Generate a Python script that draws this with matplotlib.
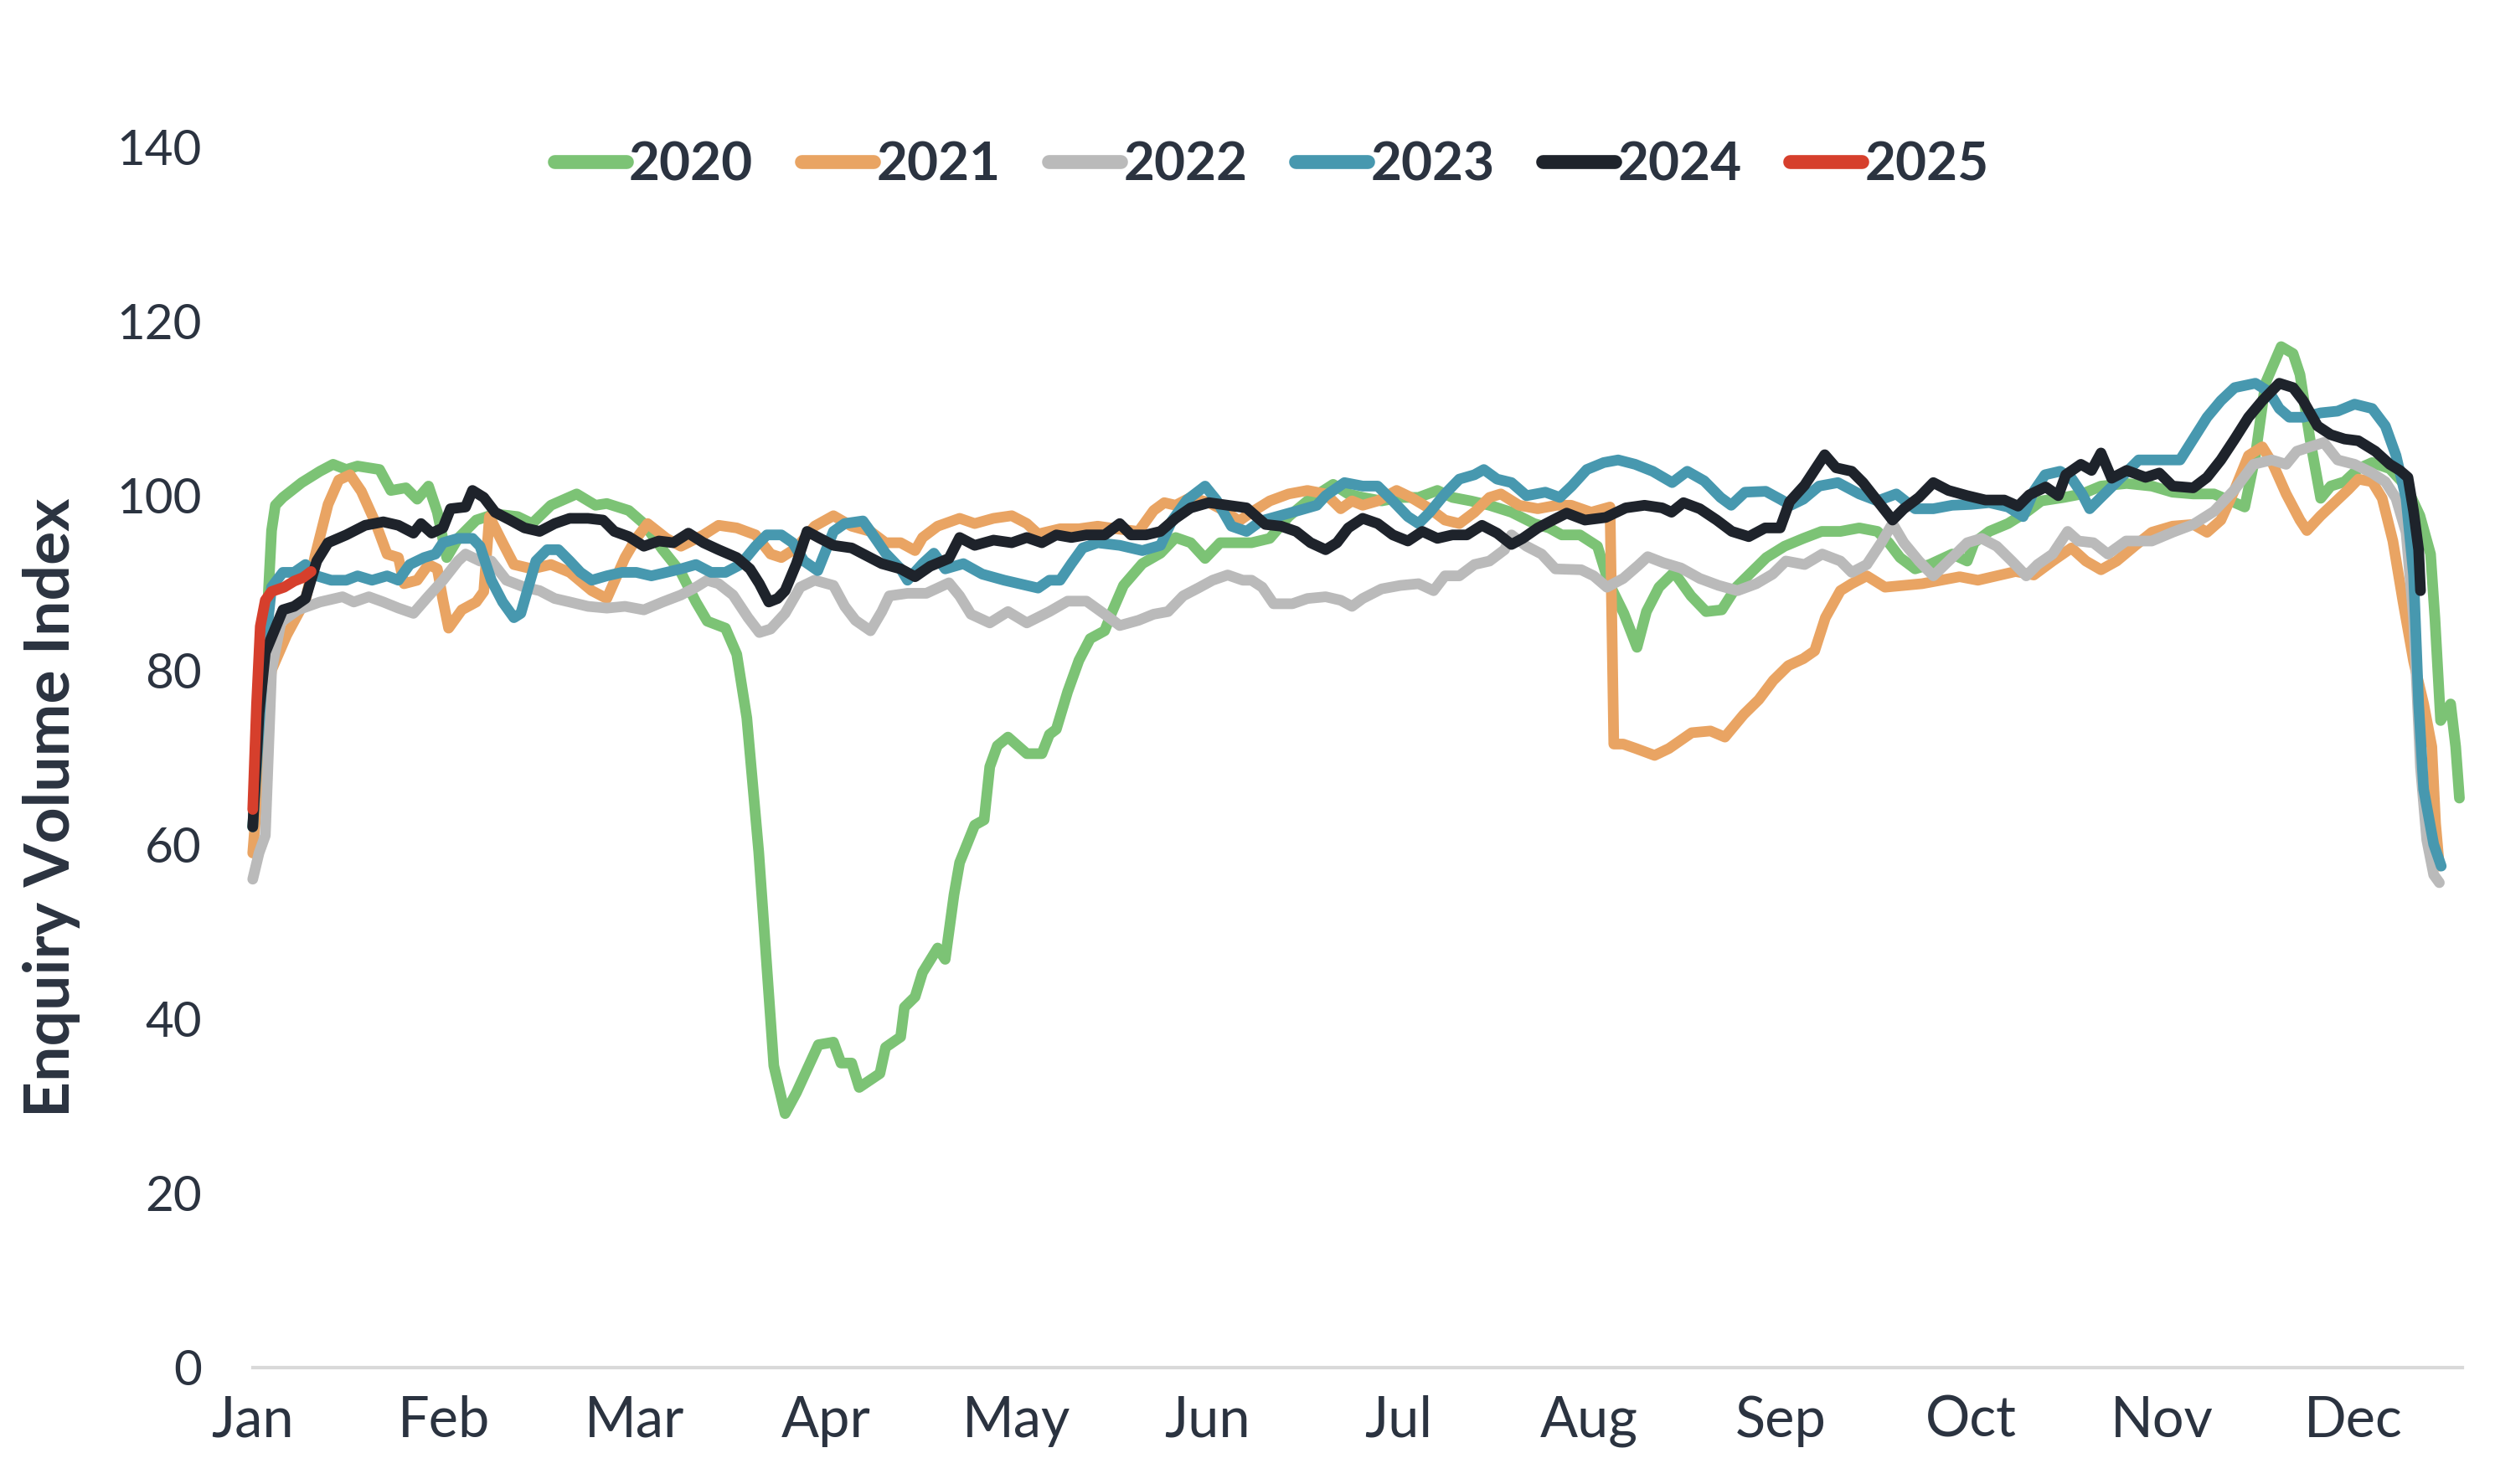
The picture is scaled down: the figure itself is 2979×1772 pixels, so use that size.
import matplotlib
matplotlib.use("Agg")
import matplotlib.pyplot as plt

# ---------------- data (day of year, index value) ----------------
months = ["Jan", "Feb", "Mar", "Apr", "May", "Jun", "Jul", "Aug", "Sep", "Oct", "Nov", "Dec"]
y_ticks = [0, 20, 40, 60, 80, 100, 120, 140]
years = ["2020", "2021", "2022", "2023", "2024", "2025"]

d2020 = [0, 1.5, 3, 3.6, 4.8, 7.8, 10.7, 12.8, 14.9, 16.7, 20.2, 22.0, 24.4, 26.2, 28.0, 29.4, 30.9, 32.7, 35.6, 38.6,
         42.2, 44.5, 47.5, 51.6, 54.6, 56.4, 59.9, 62.3, 65.3, 68.2, 70.6, 72.4, 75.3, 77.1, 78.7, 80.6, 81.8, 83.0, 84.8,
         86.6, 90.1, 92.5, 93.7, 95.4, 96.6, 99.9, 100.8, 103.2, 103.8, 105.5, 106.7, 109.1, 110.3, 111.7, 112.6, 115.0,
         116.5, 117.4, 118.6, 120.3, 123.3, 125.7, 126.9, 128.0, 129.8, 131.6, 133.4, 135.7, 136.9, 138.7, 141.7, 144.6,
         147.0, 149.4, 151.7, 154.1, 156.5, 159.1, 162, 165, 168, 172.1, 174.5, 176.8, 179.8, 182.8, 185.7, 188.7, 191.1,
         194.0, 197.0, 200.5, 204.1, 206.5, 208.5, 211.4, 214.2, 216.0, 218.4, 220.5, 222.0, 224.0, 226.4, 229.1, 231.5,
         234, 236.3, 238.7, 241.1, 244, 247, 249.9, 252.9, 255.9, 258.8, 260.6, 262.4, 264.8, 267.1, 270.7, 273.1, 274.2,
         276.6, 279.6, 282.5, 284.9, 288.5, 291.4, 294.4, 298.5, 302.5, 305.8, 309.1, 312.4, 315.7, 317.3, 319.0, 320.6,
         323.1, 325.0, 326.1, 327.7, 329.4, 331.0, 333.2, 335.4, 337.6, 340.4, 343.0, 345.2, 346.9, 347.6, 348.5, 350.1,
         350.9, 351.5]
v2020 = [62, 75, 96, 98.9, 99.8, 101.5, 102.8, 103.6, 103.0, 103.4, 103.0, 100.6, 100.9, 99.6, 101.1, 98.1, 92.9, 95.1,
         97.2, 97.9, 97.6, 96.8, 98.9, 100.2, 98.9, 99.1, 98.3, 96.8, 93.8, 91.2, 87.8, 85.6, 84.8, 81.8, 74.5, 59.1, 46.8,
         34.6, 29.1, 31.5, 37.0, 37.3, 34.9, 34.9, 32.1, 33.7, 36.7, 37.9, 41.3, 42.5, 45.3, 48.1, 46.8, 54.2, 57.9, 62.2,
         62.8, 68.9, 71.3, 72.3, 70.4, 70.4, 72.6, 73.2, 77.5, 81.1, 83.6, 84.5, 86.7, 89.7, 92.2, 93.4, 95.2, 94.6, 92.8,
         94.6, 94.6, 94.6, 95.1, 97.6, 99.4, 101.3, 100.2, 99.8, 99.4, 99.8, 99.8, 100.6, 99.8, 99.4, 98.9, 98.1, 96.8,
         96.3, 95.5, 95.5, 94.2, 90.0, 86.5, 82.6, 86.7, 89.5, 91.2, 88.5, 86.7, 86.9, 89.5, 91.2, 92.9, 94.2, 95.1, 95.9,
         95.9, 96.3, 95.9, 94.6, 92.9, 91.6, 92.1, 93.3, 92.5, 94.6, 95.9, 96.8, 98.1, 99.4, 99.8, 100.2, 101.1, 101.4,
         101.1, 100.4, 100.2, 100.2, 99.2, 98.7, 104.6, 112.9, 117.1, 116.3, 113.9, 106.5, 99.7, 101.1, 101.6, 103.1,
         103.8, 103.1, 101.1, 97.7, 93.3, 85.9, 74.2, 76.1, 71.2, 65.3]

d2021 = [0, 1, 3.0, 5.4, 8.4, 9.9, 12, 13.7, 15.5, 17.3, 19.6, 21.4, 23.2, 24.1, 26.2, 28, 29.4, 30.3, 31.2, 33.3, 35.6,
         36.8, 37.7, 39.8, 41.6, 44.5, 47.5, 50.5, 54, 56.4, 59.3, 61.1, 62.9, 65.9, 68.2, 71.8, 74.2, 77.1, 80.1, 82.5,
         84.2, 86.6, 89.5, 92.5, 95.4, 98.4, 100.8, 103.2, 105.5, 106.7, 109.1, 112.6, 115, 118, 120.9, 123.3, 125.1,
         128.6, 131.6, 134.6, 137.5, 141.1, 143.5, 145.2, 147, 149.4, 152.3, 154.7, 157.1, 159.1, 162, 165, 168, 170.9,
         173.3, 175.1, 176.8, 179.2, 182.2, 184.5, 187.5, 189.9, 192.2, 194.6, 197, 198.8, 201.7, 204.7, 207.7, 210,
         213.2, 216.2, 216.8, 218.3, 220.3, 223.3, 225.6, 229.2, 232.2, 234.5, 237.5, 239.9, 242.2, 244.6, 247, 248.8,
         250.5, 252.9, 254.7, 257.1, 260, 263, 265.9, 268.9, 271.9, 274.8, 277.8, 280.8, 283.7, 286.7, 289.7, 292, 294.4,
         296.9, 299.9, 302.5, 305.8, 309.1, 311.3, 313.5, 315.7, 317.9, 320.1, 321.8, 323.9, 326.1, 327.2, 329.4, 331.6,
         333.8, 335.4, 337.6, 339.2, 340.9, 342.5, 344.2, 345.8, 347.1, 347.7, 348.3]
v2021 = [59, 68, 80, 84, 88, 93, 99, 101.8, 102.4, 100.5, 96.8, 93.3, 92.9, 89.9, 90.3, 92.1, 91.6, 88, 84.8, 86.9, 87.8,
         89, 97.6, 94.6, 92.1, 91.6, 92.1, 91.2, 89.1, 88.2, 92.9, 95.1, 96.8, 95.1, 94.2, 95.5, 96.6, 96.3, 95.5, 93.3,
         92.9, 94, 96.5, 97.7, 96.5, 95.9, 94.6, 94.6, 93.7, 95.2, 96.5, 97.4, 96.8, 97.4, 97.7, 96.8, 95.6, 96.2, 96.2,
         96.5, 96.2, 95.9, 98.3, 99.2, 98.9, 99.8, 99.2, 98.3, 97.1, 98.1, 99.4, 100.2, 100.6, 100.2, 98.5, 99.4, 98.9,
         99.4, 100.6, 99.8, 98.5, 97.2, 96.8, 98.1, 99.8, 100.2, 98.9, 98.5, 98.9, 98.9, 98.1, 98.7, 71.5, 71.5, 71.0,
         70.2, 71.0, 72.8, 73.0, 72.3, 74.9, 76.6, 78.8, 80.5, 81.3, 82.2, 86.0, 89.1, 89.9, 90.8, 89.5, 89.7, 89.9, 90.3,
         90.7, 90.3, 90.8, 91.3, 90.9, 92.5, 94.0, 92.5, 91.5, 92.5, 94.3, 95.8, 96.5, 96.7, 95.8, 97.2, 100.7, 104.6,
         105.6, 103.6, 100.2, 97.2, 96.0, 97.7, 99.2, 100.7, 101.9, 101.6, 99.7, 94.8, 87.9, 81.0, 76.1, 71.2, 62.4, 57.5]

d2022 = [0, 1, 2, 3, 4.5, 7.2, 10.7, 14.3, 16.1, 18.5, 20.8, 23.2, 25.6, 27.9, 30.3, 32.7, 33.9, 36.2, 38, 40.4, 43.3,
         45.7, 48.1, 50.5, 53.4, 56.4, 59.3, 62.3, 65.3, 68.2, 70.6, 72.4, 74.2, 76.5, 78.9, 80.7, 82.5, 84.8, 87.2, 89.5,
         92.5, 94.3, 96, 98.4, 100.2, 101.4, 104.3, 107.3, 110.9, 112.6, 114.4, 117.4, 120.3, 123.3, 126.9, 129.8, 132.8,
         135.7, 138.1, 141.1, 143.5, 145.8, 148.2, 150.6, 152.9, 155.3, 157.7, 159.1, 160.8, 162.6, 165.6, 168, 170.9,
         173.3, 175.1, 176.8, 179.8, 182.8, 185.7, 188.1, 189.9, 192.2, 194.6, 197, 199.4, 200.5, 202.9, 205.3, 207.5,
         211.6, 213.6, 215.7, 218.3, 220.7, 222.2, 224.7, 227.5, 230.5, 233.5, 236.5, 239.5, 242.1, 244.2, 247.2, 250,
         252.9, 254.7, 257.1, 259.4, 261.2, 263, 265.4, 267.7, 270.7, 273.1, 275.4, 277.8, 280.2, 282.5, 284.3, 286.7,
         289.1, 290.8, 293.2, 295.5, 298.4, 302.5, 305.8, 309.1, 312.4, 315.7, 318.7, 321.6, 323.9, 325.6, 327.7, 329.9,
         332.1, 334.8, 337.6, 339.7, 341.4, 343.0, 344.2, 345.3, 346.3, 347.4, 348.3]
v2022 = [56, 59, 61, 80, 85.5, 86.9, 87.8, 88.4, 87.8, 88.4, 87.8, 87.1, 86.5, 88.4, 90.3, 92.5, 93.3, 92.5, 92.5, 90.3,
         89.5, 89.1, 88.2, 87.8, 87.3, 87.1, 87.3, 86.9, 87.8, 88.6, 89.5, 90.3, 89.9, 88.6, 86.0, 84.3, 84.7, 86.5, 89.5,
         90.3, 89.7, 87.3, 85.7, 84.5, 86.7, 88.5, 88.8, 88.8, 90.0, 88.5, 86.4, 85.4, 86.7, 85.4, 86.7, 87.9, 87.9, 86.4,
         85.1, 85.7, 86.4, 86.7, 88.5, 89.4, 90.3, 90.9, 90.3, 90.3, 89.5, 87.6, 87.6, 88.2, 88.4, 88.0, 87.3, 88.2, 89.3,
         89.7, 89.9, 89.1, 90.8, 90.8, 92.1, 92.5, 93.8, 95.5, 94.2, 93.3, 91.6, 91.5, 90.8, 89.5, 90.5, 92.0, 93.0, 92.3,
         91.7, 90.5, 89.7, 89.1, 89.9, 91.0, 92.5, 92.1, 93.3, 92.5, 91.2, 92.1, 94.6, 96.8, 94.6, 92.5, 90.8, 92.9, 94.6,
         95.1, 94.2, 92.5, 90.8, 92.1, 93.3, 95.9, 94.8, 94.6, 93.3, 94.8, 94.8, 95.8, 96.7, 98.2, 100.7, 103.6, 104.1,
         103.6, 105.1, 105.6, 106.1, 104.1, 103.6, 102.6, 101.6, 99.7, 95.8, 85.9, 68.8, 60.5, 56.5, 55.6]

d2023 = [0, 1.6, 3.0, 4.8, 6.6, 8.4, 10.2, 12.5, 14.9, 16.7, 19, 21.4, 23.2, 25, 27.3, 29.1, 30.3, 32.7, 35, 36.2, 38,
         39.8, 41.6, 42.7, 43.9, 45.1, 46.9, 48.7, 50.5, 52.2, 54, 56.4, 58.8, 61.1, 63.5, 65.9, 68.2, 70.6, 73, 75.3,
         77.7, 80.1, 81.9, 84.2, 86, 87.8, 90, 92.5, 94.3, 97.2, 98.4, 100.8, 103.2, 104.3, 106.7, 108.5, 110.3, 113.2,
         116.2, 119.7, 123.3, 125.1, 126.9, 128.6, 130.4, 132.2, 134.6, 138.1, 141.7, 144.6, 146.4, 148.8, 151.7, 153.5,
         155.9, 158.3, 160.6, 163.6, 166.6, 169.5, 170.9, 173.9, 176.8, 179.2, 181.6, 184, 185.7, 187.5, 189.9, 192.2,
         194.6, 196.1, 198.2, 200.5, 202.9, 205.9, 208.2, 210.1, 212.5, 215.2, 217.5, 220.2, 223, 226.1, 228.5, 231.2,
         233.8, 235.5, 237.7, 241, 243.3, 245, 247, 249.5, 252.5, 255.9, 258.8, 261.8, 264.8, 267.7, 270.7, 273.7, 276.6,
         279.6, 282, 283.7, 285.5, 287.9, 289.7, 291.4, 292.6, 294.4, 296.8, 300.4, 303.7, 307.0, 309.1, 311.3, 313.5,
         315.7, 319.0, 321.2, 322.8, 324.4, 326.6, 329.4, 332.1, 334.8, 337.6, 339.7, 341.4, 343.0, 344.2, 345.0, 345.8,
         347.4, 348.6]
v2023 = [62, 80, 89.5, 91.2, 91.2, 92.1, 90.8, 90.3, 90.3, 90.8, 90.3, 90.8, 90.3, 92.1, 92.9, 93.3, 94.6, 95.1, 95.1,
         94.2, 90.3, 87.8, 86.0, 86.5, 89.5, 92.5, 93.8, 93.8, 92.5, 91.2, 90.3, 90.8, 91.2, 91.2, 90.8, 91.2, 91.6, 92.1,
         91.2, 91.2, 92.1, 94.2, 95.5, 95.5, 94.6, 92.5, 91.4, 95.9, 96.8, 97.1, 95.9, 93.4, 91.6, 90.3, 92.2, 93.4, 91.6,
         92.2, 91.0, 90.3, 89.7, 89.4, 90.3, 90.3, 92.2, 94.0, 94.6, 94.3, 93.7, 94.3, 97.1, 99.5, 101.1, 99.5, 96.5,
         95.9, 97.1, 97.7, 98.3, 98.9, 100, 101.5, 101.1, 101.1, 99.4, 97.6, 96.8, 98.1, 100.2, 101.9, 102.4, 103.0,
         101.9, 101.5, 100, 100.4, 99.8, 101.1, 103.0, 103.8, 104.1, 103.6, 102.8, 101.5, 102.8, 101.7, 99.8, 98.9,
         100.4, 100.5, 99.6, 98.9, 99.6, 101.1, 101.5, 100.2, 99.4, 100.2, 98.5, 98.5, 98.9, 99.0, 99.2, 98.7, 97.6,
         100.5, 102.4, 102.8, 102.0, 100.2, 98.5, 99.8, 101.5, 104.1, 104.1, 104.1, 106.5, 109, 110.9, 112.4, 112.9,
         111.9, 110, 109, 109, 109.5, 109.7, 110.5, 110, 108, 104.6, 99.7, 90.9, 76.1, 66.3, 60, 57.5]

d2024 = [0, 1.0, 2.0, 3.6, 4.8, 6.6, 8.4, 10.2, 12, 14.9, 17.9, 20.8, 23.2, 25.6, 26.8, 28.5, 30.3, 31.5, 33.9, 35,
         36.8, 38.6, 41, 43.3, 45.7, 48.1, 50.5, 53.4, 55.8, 57.6, 59.9, 62.3, 64.7, 67, 69.4, 71.8, 74.2, 77.1, 79.2,
         80.7, 82.2, 83.6, 84.8, 86.6, 88.3, 90.1, 92.5, 95.4, 97.8, 100.2, 103.2, 105.5, 107.9, 110.9, 112.6, 115, 118,
         120.9, 123.3, 125.7, 128, 130.4, 132.8, 135.7, 138.1, 139.9, 142.3, 144.6, 147, 149.4, 152.3, 155.3, 158.3,
         161.3, 163.8, 166.2, 168.5, 170.9, 172.7, 174.5, 176.8, 179.2, 181.6, 184, 186.3, 188.7, 191.1, 193.4, 195.8,
         198.2, 200.5, 202.3, 204.7, 207.1, 209.3, 212.2, 215.5, 218.7, 221.7, 224.5, 226, 227.9, 230.5, 233.2, 235.6,
         238.3, 240.9, 243.3, 244.8, 247.2, 250.4, 252.2, 254.7, 256.5, 258.8, 261.2, 263, 265.4, 267.7, 270.1, 273.1,
         276, 279, 281.2, 283, 285.6, 287.6, 288.8, 291.2, 292.9, 294.4, 296.1, 298.5, 301.5, 303.7, 305.8, 309.1, 311.3,
         313.5, 315.7, 317.9, 320.1, 322.8, 325.0, 326.6, 328.9, 331.0, 333.2, 335.4, 338.1, 340.4, 342.0, 343.3, 344.2,
         345.0, 345.3]
v2024 = [62, 75, 82, 84.8, 86.9, 87.3, 88.2, 92.5, 94.6, 95.5, 96.6, 97.0, 96.6, 95.7, 96.8, 95.7, 96.3, 98.5, 98.7,
         100.6, 99.8, 98.1, 97.2, 96.3, 95.9, 96.8, 97.4, 97.4, 97.2, 95.9, 95.3, 94.2, 94.8, 94.6, 95.7, 94.6, 93.8,
         92.9, 91.6, 89.9, 87.8, 88.2, 89.1, 92.2, 95.9, 95.2, 94.3, 94.0, 93.1, 92.2, 91.6, 90.7, 91.9, 92.8, 95.2, 94.3,
         94.9, 94.6, 95.2, 94.6, 95.5, 95.2, 95.5, 95.5, 96.8, 95.5, 95.5, 95.9, 97.4, 98.6, 99.2, 98.9, 98.6, 96.7, 96.5,
         95.9, 94.6, 93.8, 94.6, 96.3, 97.4, 96.8, 95.5, 94.8, 95.9, 95.1, 95.5, 95.5, 96.6, 95.7, 94.4, 95.1, 96.3, 97.2,
         98.0, 97.2, 97.5, 98.6, 98.9, 98.6, 98.1, 99.2, 98.5, 97.2, 95.9, 95.3, 96.3, 96.3, 99.3, 101.2, 104.7, 103.2,
         102.8, 101.5, 99.4, 97.2, 98.5, 99.8, 101.5, 100.6, 100, 99.5, 99.5, 98.8, 100.1, 101.0, 100.0, 102.4, 103.6,
         102.9, 104.9, 102.0, 102.9, 102.1, 102.6, 101.1, 100.9, 102.1, 104.1, 106.5, 109, 110.9, 112.9, 112.4, 110.9,
         108, 107, 106.5, 106.3, 105.1, 103.6, 102.9, 102.1, 98.2, 93.8, 89.1]

d2025 = [0, 0.6, 1.2, 2.0, 3, 5, 6.6, 8, 9.3]
v2025 = [64, 76, 85, 88, 89, 89.5, 90.2, 90.6, 91.3]

series_days = [d2020, d2021, d2022, d2023, d2024, d2025]
series_vals = [v2020, v2021, v2022, v2023, v2024, v2025]

# ---------------- style ----------------
colors = ["#7CC375", "#E9A463", "#BABABA", "#4798AF", "#1E232B", "#D63F2C"]
text_color = "#2B3340"
plt.rcParams["font.family"] = ["Lato", "DejaVu Sans"]

fig = plt.figure(figsize=(14.895, 8.86), dpi=200)
ax = fig.add_axes([0.1013, 0.0787, 0.8857, 0.8222])

for lab, d, v, c in zip(years, series_days, series_vals, colors):
    ax.plot(d, v, color=c, lw=4.6, label=lab, solid_capstyle="round",
            solid_joinstyle="round", clip_on=False)

month_len = 365 / 12
ax.set_xlim(0, 352)
ax.set_ylim(0, 140)
ax.set_xticks([i * month_len for i in range(12)])
ax.set_xticklabels(months)
ax.set_yticks(y_ticks)

for s in ["top", "right", "left"]:
    ax.spines[s].set_visible(False)
ax.spines["bottom"].set_color("#D9D9D9")
ax.spines["bottom"].set_linewidth(1.5)

ax.tick_params(axis="x", length=0, pad=12, labelsize=24, colors=text_color)
ax.tick_params(axis="y", length=0, pad=22, labelsize=21, colors=text_color)

fig.text(0.0205, 0.456, "Enquiry Volume Index", rotation=90, ha="center", va="center",
         fontsize=27, fontweight="bold", color=text_color)

leg = ax.legend(loc="center", bbox_to_anchor=(0.5096, 0.889), bbox_transform=fig.transFigure,
                ncol=6, frameon=False, handlelength=1.35, handletextpad=0.05, columnspacing=0.9,
                prop={"size": 23, "weight": "bold"})
for t in leg.get_texts():
    t.set_color(text_color)
for h in leg.get_lines():
    h.set_linewidth(6)

fig.savefig("out.png", dpi=200)
